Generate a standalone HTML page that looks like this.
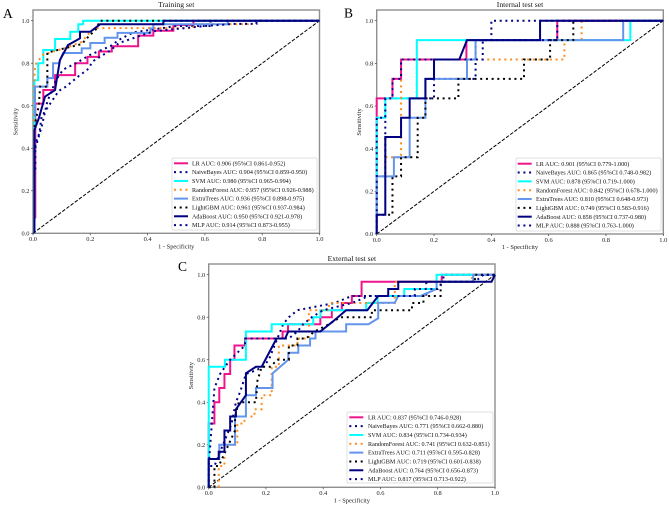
<!DOCTYPE html>
<html lang="en">
<head>
<meta charset="utf-8">
<title>ROC curves</title>
<style>
html,body{margin:0;padding:0;background:#fff;width:669px;height:508px;overflow:hidden}
svg{display:block;font-family:"Liberation Serif",serif;filter:blur(.3px)}
</style>
</head>
<body>
<svg id="chart" width="669" height="508" viewBox="0 0 669 508" xmlns="http://www.w3.org/2000/svg"></svg>
<script>
const tickLabels = ['0.0','0.2','0.4','0.6','0.8','1.0'];
const tickValues = [0,0.2,0.4,0.6,0.8,1];
const modelNames = ['LR','NaiveBayes','SVM','RandomForest','ExtraTrees','LightGBM','AdaBoost','MLP'];

const trainAucLabels = ['0.906 (95%CI 0.861-0.952)','0.904 (95%CI 0.859-0.950)','0.980 (95%CI 0.965-0.994)','0.957 (95%CI 0.926-0.988)','0.936 (95%CI 0.898-0.975)','0.961 (95%CI 0.937-0.984)','0.950 (95%CI 0.921-0.978)','0.914 (95%CI 0.873-0.955)'];
const internalAucLabels = ['0.901 (95%CI 0.779-1.000)','0.865 (95%CI 0.748-0.982)','0.878 (95%CI 0.719-1.000)','0.842 (95%CI 0.678-1.000)','0.810 (95%CI 0.648-0.973)','0.749 (95%CI 0.583-0.916)','0.858 (95%CI 0.737-0.980)','0.888 (95%CI 0.763-1.000)'];
const externalAucLabels = ['0.837 (95%CI 0.746-0.928)','0.771 (95%CI 0.662-0.880)','0.834 (95%CI 0.734-0.934)','0.741 (95%CI 0.632-0.851)','0.711 (95%CI 0.595-0.828)','0.719 (95%CI 0.601-0.838)','0.764 (95%CI 0.656-0.873)','0.817 (95%CI 0.713-0.922)'];

/* Training set */
const trainLrFpr = [.008,.008,.036,.036,.077,.077,.147,.147,.19,.19,.23,.23,.275,.275,.367,.367,.42,.42,.49,.49,.56,.56,1];
const trainLrTpr = [.07,.61,.61,.674,.674,.744,.744,.8,.8,.83,.83,.855,.855,.88,.88,.93,.93,.953,.953,.98,.98,1,1];
const trainNbFpr = [.008,.03,.05,.08,.105,.15,.2,.27,.3,.35,.5,.62,.62,1];
const trainNbTpr = [.4,.5,.62,.72,.77,.8,.84,.88,.91,.945,.975,.975,1,1];
const trainSvmFpr = [.005,.005,.018,.018,.036,.036,.077,.077,.13,.13,.158,.158,.175,.175,1];
const trainSvmTpr = [0,.72,.72,.8,.8,.862,.862,.914,.914,.948,.948,.983,.983,1,1];
const trainRfFpr = [.005,.005,.007,.02,.035,.087,.11,.17,.19,.215,.56,.56,.75,.75,1];
const trainRfTpr = [.5,.72,.79,.815,.84,.862,.87,.9,.933,.965,.965,.984,.984,1,1];
const trainEtFpr = [.007,.007,.05,.05,.07,.07,.09,.105,.17,.17,.2,.2,.25,.25,.295,.295,.41,.41,.42,.42,.68,.68,1];
const trainEtTpr = [.55,.69,.69,.73,.73,.8,.8,.848,.848,.87,.87,.895,.895,.92,.92,.943,.943,.964,.964,.983,.983,1,1];
const trainGbmFpr = [.005,.02,.025,.05,.05,.11,.17,.19,.22,.234,1];
const trainGbmTpr = [.5,.6,.69,.69,.85,.87,.89,.92,.96,1,1];
const trainAdaFpr = [.005,.005,.02,.042,.077,.094,.122,.164,.164,.2,.234,.455,.455,1];
const trainAdaTpr = [0,.486,.54,.643,.674,.815,.885,.917,.948,.948,.983,.983,1,1];
const trainMlpFpr = [.008,.008,.022,.03,.055,.09,.115,.16,.19,.21,.27,.3,.42,.6,.7,.78,.78,1];
const trainMlpTpr = [.3,.42,.47,.55,.6,.67,.69,.74,.77,.81,.86,.895,.95,.975,.985,.985,1,1];

/* Internal test set */
const internalLrFpr = [0,0,.055,.055,.085,.085,.313,.313,.63,.63,1];
const internalLrTpr = [0,.636,.636,.727,.727,.818,.818,.909,.909,1,1];
const internalNbFpr = [0,0,.03,.03,.2,.2,.345,.345,.4,.4,1];
const internalNbTpr = [0,.27,.27,.636,.636,.727,.727,.909,.909,1,1];
const internalSvmFpr = [0,0,.03,.03,.14,.14,.885,.885,1];
const internalSvmTpr = [0,.545,.545,.636,.636,.909,.909,1,1];
const internalRfFpr = [0,0,.03,.03,.085,.085,.655,.655,.715,.715,1];
const internalRfTpr = [0,.27,.27,.36,.36,.818,.818,.909,.909,1,1];
const internalEtFpr = [0,0,.06,.06,.115,.115,.17,.17,.315,.315,.345,.345,.86,.86,1];
const internalEtTpr = [0,.27,.27,.36,.36,.545,.545,.727,.727,.818,.818,.909,.909,1,1];
const internalGbmFpr = [0,.055,.055,.085,.085,.143,.143,.17,.17,.285,.285,.514,.514,.605,.605,.686,.686,1];
const internalGbmTpr = [.09,.09,.27,.27,.36,.36,.545,.545,.636,.636,.727,.727,.818,.818,.909,.909,1,1];
const internalAdaFpr = [0,0,.03,.03,.085,.085,.115,.115,.17,.17,.2,.2,.288,.315,.57,.57,1];
const internalAdaTpr = [0,.09,.09,.455,.455,.545,.545,.636,.636,.727,.727,.818,.818,.909,.909,1,1];
const internalMlpFpr = [0,0,.03,.03,.055,.055,.085,.085,.37,.37,.63,.63,1];
const internalMlpTpr = [0,.545,.545,.636,.636,.727,.727,.818,.818,.909,.909,1,1];

/* External test set */
const externalLrFpr = [0,0,.02,.02,.037,.037,.055,.055,.075,.075,.09,.09,.127,.127,.258,.258,.277,.277,.39,.39,.43,.43,.465,.465,.5,.5,.534,.534,.814,.814,1];
const externalLrTpr = [0,.3,.3,.4,.4,.467,.467,.533,.533,.6,.6,.667,.667,.7,.7,.733,.733,.767,.767,.8,.8,.833,.833,.867,.867,.9,.9,.967,.967,1,1];
const externalNbFpr = [0,0,.02,.05,.08,.095,.11,.13,.165,.19,.21,.24,.26,.28,.31,.44,.5,.76,.76,.82,.82,1];
const externalNbTpr = [0,.1,.1,.2,.3,.4,.45,.533,.55,.567,.6,.7,.767,.8,.833,.867,.9,.9,.967,.967,1,1];
const externalSvmFpr = [0,0,.057,.057,.13,.13,.22,.22,.365,.365,.39,.39,.55,.55,.59,.59,.683,.683,.796,.796,1];
const externalSvmTpr = [0,.567,.567,.6,.6,.733,.733,.767,.767,.8,.8,.833,.833,.867,.867,.9,.9,.933,.933,1,1];
const externalRfFpr = [.035,.035,.055,.055,.1,.1,.125,.125,.16,.16,.185,.185,.22,.22,.245,.245,.31,.31,.35,.35,.42,.42,.65,.65,.92,.92,1];
const externalRfTpr = [0,.1,.1,.2,.2,.3,.3,.333,.333,.367,.367,.433,.433,.567,.567,.667,.667,.7,.7,.833,.833,.867,.867,.967,.967,1,1];
const externalEtFpr = [0,0,.037,.037,.092,.092,.13,.13,.165,.165,.223,.223,.278,.278,.313,.313,.354,.354,.373,.373,.48,.48,.558,.592,.592,.65,.662,.74,.796,.796,.924,.924,1];
const externalEtTpr = [0,.133,.133,.2,.2,.333,.333,.433,.433,.467,.467,.536,.6,.633,.633,.667,.667,.7,.7,.733,.733,.767,.767,.795,.868,.868,.9,.9,.933,.967,.967,1,1];
const externalGbmFpr = [0,.02,.02,.035,.092,.092,.105,.165,.17,.185,.215,.24,.28,.28,.31,.31,.34,.37,.42,.46,.57,.57,.71,.71,.75,.75,.81,.81,.93,.93,1];
const externalGbmTpr = [0,0,.1,.1,.267,.333,.4,.4,.5,.567,.567,.6,.6,.667,.667,.7,.7,.733,.767,.8,.8,.833,.833,.867,.867,.9,.9,.967,.967,1,1];
const externalAdaFpr = [0,0,.035,.035,.055,.055,.075,.075,.095,.095,.13,.13,.165,.185,.237,.267,.278,.39,.44,.48,.554,.592,.627,.627,.662,.662,.988,1];
const externalAdaTpr = [0,.133,.133,.167,.167,.267,.267,.333,.333,.367,.433,.536,.567,.567,.7,.7,.733,.733,.787,.833,.833,.9,.9,.933,.933,.967,.967,1];
const externalMlpFpr = [0,0,.02,.04,.057,.075,.1,.127,.127,.28,.31,.33,.36,.4,.5,.56,.72,.72,.8,.82,.93,.96,1];
const externalMlpTpr = [0,.1,.467,.533,.567,.6,.633,.667,.7,.7,.733,.767,.8,.833,.867,.9,.9,.933,.933,.967,.967,1,1];

const trainSeries = [[trainLrFpr,trainLrTpr],[trainNbFpr,trainNbTpr],[trainSvmFpr,trainSvmTpr],[trainRfFpr,trainRfTpr],[trainEtFpr,trainEtTpr],[trainGbmFpr,trainGbmTpr],[trainAdaFpr,trainAdaTpr],[trainMlpFpr,trainMlpTpr]];
const internalSeries = [[internalLrFpr,internalLrTpr],[internalNbFpr,internalNbTpr],[internalSvmFpr,internalSvmTpr],[internalRfFpr,internalRfTpr],[internalEtFpr,internalEtTpr],[internalGbmFpr,internalGbmTpr],[internalAdaFpr,internalAdaTpr],[internalMlpFpr,internalMlpTpr]];
const externalSeries = [[externalLrFpr,externalLrTpr],[externalNbFpr,externalNbTpr],[externalSvmFpr,externalSvmTpr],[externalRfFpr,externalRfTpr],[externalEtFpr,externalEtTpr],[externalGbmFpr,externalGbmTpr],[externalAdaFpr,externalAdaTpr],[externalMlpFpr,externalMlpTpr]];

const seriesStyles = [
  {color:'#f0148c',dash:''},
  {color:'#000080',dash:'2 3.7'},
  {color:'#00ffff',dash:''},
  {color:'#ff8c1e',dash:'2 3.7'},
  {color:'#6495ed',dash:''},
  {color:'#000000',dash:'2 3.7'},
  {color:'#000080',dash:''},
  {color:'#00008b',dash:'2 3.7'}
];
const panels = [
  {key:'training',title:'Training set',letter:'A',letterX:3,letterY:18,left:33,right:319.5,top:10,base:233.3,unitTop:20.7,series:trainSeries,auc:trainAucLabels,
   lgX:172,lgY:158,lgW:145,lgH:72,lgHandle:174,lgText:192,lgRow:163.3},
  {key:'internal',title:'Internal test set',letter:'B',letterX:344,letterY:17.5,left:376.7,right:663.3,top:10,base:234,unitTop:20.7,series:internalSeries,auc:internalAucLabels,
   lgX:516,lgY:158,lgW:145,lgH:73,lgHandle:517.7,lgText:536,lgRow:163.7},
  {key:'external',title:'External test set',letter:'C',letterX:178,letterY:271,left:208.7,right:495,top:264,base:487.3,unitTop:274.7,series:externalSeries,auc:externalAucLabels,
   lgX:347,lgY:412,lgW:146,lgH:71,lgHandle:349.3,lgText:368,lgRow:417.3}
];

const NS = 'http://www.w3.org/2000/svg';
const root = document.getElementById('chart');
function make(tag, parent, attrs, text){
  const el = document.createElementNS(NS, tag);
  for(const k in attrs) el.setAttribute(k, attrs[k]);
  if(text !== undefined) el.textContent = text;
  parent.appendChild(el);
  return el;
}
function xAxis(p, v){ return p.left + v * (p.right - p.left); }
function yAxis(p, v){ return p.base - v * (p.base - p.unitTop); }

panels.forEach(function(p){
  const g = make('g', root, {});
  
  

  const letter = make('text', g, {x:p.letterX,y:p.letterY,'font-size':13.5,fill:'#000'}, p.letter);
  
  

  const title = make('text', g, {x:(p.left+p.right)/2,y:p.top-3,'font-size':7.6,'text-anchor':'middle',fill:'#111'}, p.title);
  
  

  const frame = make('rect', g, {x:p.left,y:p.top,width:p.right-p.left,height:p.base-p.top,fill:'#fff',stroke:'#8f8f8f','stroke-width':1.4});
  
  

  tickValues.forEach(function(v,i){
    const tx = make('line', g, {x1:xAxis(p,v),x2:xAxis(p,v),y1:p.base,y2:p.base+2,stroke:'#444','stroke-width':.7});
    
    
    const lx = make('text', g, {x:xAxis(p,v),y:p.base+7.8,'font-size':6.4,'text-anchor':'middle',fill:'#222'}, tickLabels[i]);
    
    
    const ty = make('line', g, {x1:p.left-2,x2:p.left,y1:yAxis(p,v),y2:yAxis(p,v),stroke:'#444','stroke-width':.7});
    
    
    const ly = make('text', g, {x:p.left-3.5,y:yAxis(p,v)+2.1,'font-size':6.4,'text-anchor':'end',fill:'#222'}, tickLabels[i]);
    
    
  });

  const xt = make('text', g, {x:(p.left+p.right)/2,y:p.base+15,'font-size':6.4,'text-anchor':'middle',fill:'#222'}, '1 - Specificity');
  
  
  const ycy = (p.top+p.base)/2;
  const yt = make('text', g, {x:p.left-15.5,y:ycy,'font-size':6.4,'text-anchor':'middle',fill:'#222',transform:'rotate(-90 '+(p.left-15.5)+' '+ycy+')'}, 'Sensitivity');
  
  

  const diag = make('line', g, {x1:xAxis(p,0),y1:yAxis(p,0),x2:xAxis(p,1),y2:yAxis(p,1),stroke:'#000','stroke-width':1,'stroke-dasharray':'3.6 1.6'});
  
  

  p.series.forEach(function(s,i){
    const pts = s[0].map(function(f,j){ return xAxis(p,f).toFixed(2)+','+yAxis(p,s[1][j]).toFixed(2); }).join(' ');
    const st = seriesStyles[i];
    const line = make('polyline', g, {points:pts,fill:'none',stroke:st.color,'stroke-width':2,'stroke-linejoin':'miter'});
    if(st.dash) line.setAttribute('stroke-dasharray', st.dash);
    
    
  });

  const legend = make('g', g, {});
  
  
  const box = make('rect', legend, {x:p.lgX,y:p.lgY,width:p.lgW,height:p.lgH,rx:1.5,fill:'#fff','fill-opacity':.9,stroke:'#d5d5d5','stroke-width':.7});
  
  
  modelNames.forEach(function(name,i){
    const y = p.lgRow + i * 8.83;
    const st = seriesStyles[i];
    const h = make('line', legend, {x1:p.lgHandle,x2:p.lgHandle+14,y1:y,y2:y,stroke:st.color,'stroke-width':2});
    if(st.dash) h.setAttribute('stroke-dasharray', st.dash);
    
    
    const t = make('text', legend, {x:p.lgText,y:y+2.1,'font-size':6.15,fill:'#111'}, name + ' AUC: ' + p.auc[i]);
    
    
  });
});
</script>
</body>
</html>
